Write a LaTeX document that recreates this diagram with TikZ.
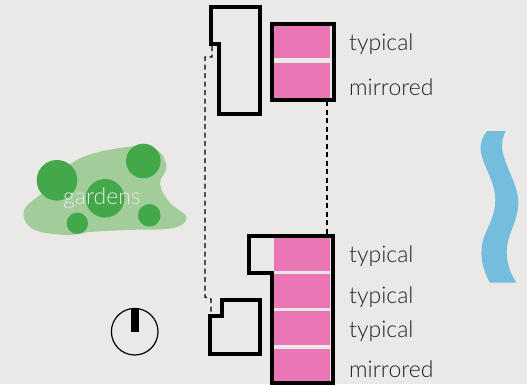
\documentclass[tikz,border=0pt]{standalone}
\usepackage{fontspec}
\setmainfont{Lato Light}
\definecolor{bgc}{HTML}{EBE9E7}
\definecolor{pinkc}{HTML}{EB76B6}
\definecolor{lgreen}{HTML}{A2CD9A}
\definecolor{dgreen}{HTML}{42A84A}
\definecolor{bluec}{HTML}{74BDDD}
\definecolor{txtc}{HTML}{222222}
\tikzset{
  outline/.style={draw=black,line width=4pt,line join=miter},
  pinkfill/.style={fill=pinkc,draw=none},
  strip/.style={fill=bgc,draw=none},
  tree/.style={circle,fill=dgreen,draw=none,inner sep=0pt},
  lbl/.style={anchor=base west,inner sep=0pt,text=txtc,font=\fontsize{23}{23}\selectfont},
  link/.style={draw=black,line width=1.2pt,dash pattern=on 5pt off 3.5pt}
}
\begin{document}
\begin{tikzpicture}[x=1pt,y=-1pt]
\useasboundingbox[fill=bgc] (0,0) rectangle (527,384);
% garden
\fill[lgreen] plot[smooth cycle,tension=0.62] coordinates {(24,210) (46,190) (76.7,160) (123,147.5) (155,149) (166.5,166) (160,184) (170,203) (186.5,217) (173,228) (126.7,230) (90,232) (66.7,235) (33,229)};
\node[tree,minimum size=40.6pt] (t1) at (57,180.3) {};
\node[tree,minimum size=34.6pt] (t2) at (143.3,161) {};
\node[tree,minimum size=38.6pt] (t3) at (105,198.3) {};
\node[tree,minimum size=22.6pt] (t4) at (149.3,215.3) {};
\node[tree,minimum size=21.4pt] (t5) at (77.3,223.3) {};
\node[lbl,text=bgc] (gardens) at (63,204) {gardens};
% river
\fill[bluec] (487.3,131) -- (505.7,131) .. controls (500,142) and (502,152) .. (505,160) .. controls (510,175) and (518.5,188) .. (518.3,203) .. controls (518,222) and (506.5,235) .. (506.7,252) .. controls (507,265) and (511,275) .. (516.7,282.7) -- (490,282.7) .. controls (484,272) and (481,262) .. (481.5,250) .. controls (482,232) and (495,222) .. (495.3,200) .. controls (495.5,180) and (480,162) .. (480.5,147) .. controls (481,140) and (484,134) .. (487.3,131) -- cycle;
% compass
\node[circle,draw=black,line width=1.2pt,minimum size=46.6pt,inner sep=0pt] (compass) at (134.7,331.7) {};
\fill[black] (131,308.3) rectangle (139,332);
% pink
\fill[pinkfill] (273.3,24) rectangle (330,98.5);
\fill[strip] (273.3,58) rectangle (330,62.7);
\fill[pinkfill] (274,238) rectangle (330,383);
\fill[strip] (274,271) rectangle (330,274);
\fill[strip] (274,308) rectangle (330,311);
\fill[strip] (274,345) rectangle (330,349);
% dashed links
\coordinate (u1) at (212,46);
\coordinate (u2) at (212,57);
\coordinate (u3) at (205,57);
\coordinate (l1) at (205,297);
\coordinate (l2) at (211,299);
\coordinate (l3) at (211,314);
\coordinate (r1) at (327,101);
\coordinate (r2) at (327,236);
\draw[link] (u1) -- (u2) -- (u3) -- (l1) -- (l2) -- (l3);
\draw[link] (r1) -- (r2);
% outlines
\draw[outline] (210.7,7.3) -- (260.3,7.3) -- (260.3,114.3) -- (219.3,114.3) -- (219.3,44) -- (210.7,44) -- cycle;
\draw[outline] (271.5,23.5) -- (334,23.5) -- (334,99.5) -- (271.5,99.5) -- cycle;
\draw[outline] (249.3,235.7) -- (332.7,235.7) -- (332.7,382.7) -- (272,382.7) -- (272,272.7) -- (249.3,272.7) -- cycle;
\draw[outline] (210,315.7) -- (221.7,315.7) -- (221.7,300) -- (260,300) -- (260,354) -- (210,354) -- cycle;
% labels
\node[lbl] (a) at (349,50) {typical};
\node[lbl] (b) at (349,95) {mirrored};
\node[lbl] (c) at (349,262) {typical};
\node[lbl] (d) at (349,303) {typical};
\node[lbl] (e) at (349,337) {typical};
\node[lbl] (f) at (349,377) {mirrored};
\end{tikzpicture}
\end{document}
